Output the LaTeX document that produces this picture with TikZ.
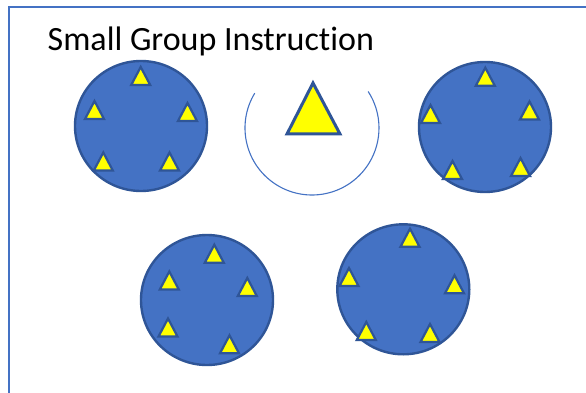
\documentclass[tikz,border=0pt]{standalone}
\usepackage{fontspec}
\setmainfont[Ligatures=NoCommon]{Carlito}
\usetikzlibrary{shapes.geometric}
\definecolor{frameblue}{HTML}{4472C4}
\definecolor{fillblue}{HTML}{4472C4}
\definecolor{edgeblue}{HTML}{2F5597}
\definecolor{stuyellow}{HTML}{FFFF00}
\tikzset{
  grp/.style={ellipse, draw=edgeblue, fill=fillblue, line width=2.4pt, inner sep=0pt,
              minimum width=132pt, minimum height=130pt},
  stu/.pic={\draw[draw=edgeblue, fill=stuyellow, line width=2.2pt, line join=miter]
             (0,0) -- (-9.5,18) -- (9.5,18) -- cycle;},
  teacherbox/.style={draw=edgeblue, fill=stuyellow, line width=3pt, line join=miter},
  arcline/.style={draw=frameblue, line width=1.1pt},
  framelines/.style={draw=frameblue, line width=2.2pt},
  titletext/.style={anchor=base west, inner sep=0pt, font=\fontsize{34}{40}\selectfont}
}
\begin{document}
\begin{tikzpicture}[x=1pt, y=-1pt]
\useasboundingbox (0,0) rectangle (586,393);
\fill[white] (0,0) rectangle (586,393);
% frame
\draw[framelines] (587,7) -- (9,7) -- (9,394);
% title
\node[titletext] (title) at (47.5,51) {Small Group Instruction};

% group A (top-left)
\node[grp] (gA) at (141,126) {};
\pic at (140.7,67) {stu};
\pic at (94.5,101) {stu};
\pic at (187.5,103) {stu};
\pic at (103.3,152.5) {stu};
\pic at (169.5,152.5) {stu};

% teacher
\coordinate (tc) at (312,128);
\draw[arcline] (tc) ++(148.7:67pt) arc[start angle=148.7, end angle=393, radius=67pt];
\draw[teacherbox] (313,83) -- (287,134) -- (340,134) -- cycle;

% group B (top-right)
\node[grp] (gB) at (485,127) {};
\pic at (485.3,67.7) {stu};
\pic at (430.5,105) {stu};
\pic at (529.5,101.5) {stu};
\pic at (452.5,161) {stu};
\pic at (520.5,158) {stu};

% group C (bottom-left)
\node[grp] (gC) at (207,300) {};
\pic at (214.3,244.7) {stu};
\pic at (169.3,271.5) {stu};
\pic at (247.3,278) {stu};
\pic at (168,318.5) {stu};
\pic at (229.5,335.3) {stu};

% group D (bottom-right)
\node[grp] (gD) at (403.3,289.3) {};
\pic at (410,228.7) {stu};
\pic at (349,268) {stu};
\pic at (454.5,275.3) {stu};
\pic at (366.3,322) {stu};
\pic at (430,324) {stu};
\end{tikzpicture}
\end{document}
